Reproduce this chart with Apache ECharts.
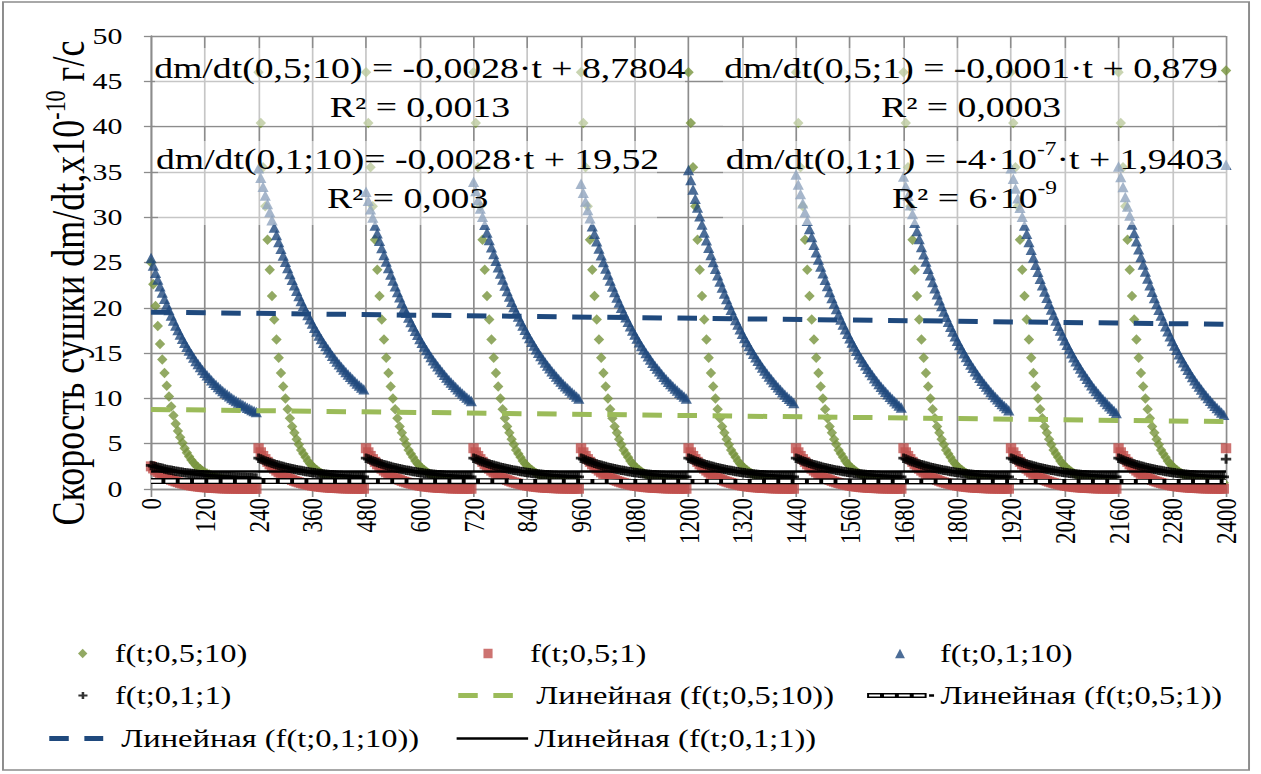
<!DOCTYPE html>
<html><head><meta charset="utf-8">
<script src="https://cdn.jsdelivr.net/npm/echarts/dist/echarts.min.js"></script>
<style>
html,body{margin:0;padding:0;background:#fff;overflow:hidden;width:1261px;height:774px}
#c{width:970px;height:774px;transform:scaleX(1.3);transform-origin:0 0;}
</style>
</head><body><div id="c"></div>
<script>
// ---- data ----
const STEP = 5;          // sampling step of t
const CYCLE = 240;       // length of one cycle
const N_CYCLES = 10;
const X_TICKS = {min: 0, max: 2400, interval: 120};
const Y_TICKS = {min: 0, max: 50, interval: 5};

// f(t;0,5;10)  (green diamonds)
const greenFirst = [25.0,22.6,20.2,18.0,16.0,14.3,12.8,11.4,10.2,9.1,8.1,7.2,6.4,5.7,5.1,4.5,4.0,3.6,3.2,2.9,2.6,2.4,2.2,2.0,1.85,1.7,1.6,1.5,1.4,1.3,1.22,1.15,1.1,1.05,1.0,0.96,0.92,0.89,0.86,0.83,0.8,0.78,0.76,0.74,0.72,0.71,0.7,0.69];
const greenCycle = [46.0,40.4,35.5,31.2,27.5,24.2,21.3,18.7,16.5,14.5,12.8,11.3,10.0,8.8,7.8,6.9,6.2,5.5,4.9,4.3,3.9,3.5,3.1,2.8,2.5,2.3,2.1,1.9,1.75,1.6,1.5,1.38,1.28,1.2,1.12,1.06,1.0,0.95,0.91,0.87,0.84,0.81,0.78,0.76,0.74,0.72,0.71,0.70];
const greenLast = 46.2;

// f(t;0,5;1)  (red squares)
const redFirst = [2.5,2.27,2.06,1.87,1.69,1.53,1.38,1.25,1.13,1.02,0.92,0.83,0.75,0.67,0.6,0.54,0.48,0.43,0.38,0.34,0.3,0.27,0.24,0.21,0.19,0.17,0.15,0.13,0.12,0.1,0.09,0.08,0.07,0.06,0.06,0.05,0.05,0.04,0.04,0.04,0.03,0.03,0.03,0.03,0.02,0.02,0.02,0.02];
const redCycle = [4.5,4.05,3.65,3.3,3.0,2.72,2.47,2.24,2.03,1.84,1.66,1.5,1.36,1.23,1.11,1.0,0.9,0.81,0.73,0.66,0.59,0.53,0.47,0.42,0.37,0.33,0.29,0.26,0.23,0.2,0.18,0.16,0.14,0.12,0.11,0.1,0.09,0.08,0.07,0.06,0.06,0.05,0.05,0.04,0.04,0.04,0.03,0.03];
const redLast = 4.5;

// f(t;0,1;10)  (blue triangles)
const blueFirst = [25.50,24.67,23.87,23.11,22.38,21.68,21.01,20.37,19.75,19.16,18.60,18.06,17.55,17.06,16.58,16.13,15.70,15.28,14.89,14.51,14.14,13.80,13.46,13.14,12.84,12.55,12.27,12.00,11.74,11.50,11.26,11.04,10.82,10.62,10.42,10.23,10.05,9.88,9.71,9.55,9.40,9.26,9.12,8.98,8.86,8.73,8.62,8.51];
const blueCycle = [35.60,34.45,33.34,32.26,31.22,30.22,29.25,28.32,27.41,26.54,25.70,24.88,24.10,23.34,22.60,21.90,21.21,20.55,19.91,19.29,18.70,18.12,17.57,17.03,16.51,16.01,15.53,15.06,14.61,14.17,13.75,13.35,12.95,12.57,12.21,11.85,11.51,11.18,10.86,10.55,10.25,9.97,9.69,9.42,9.16,8.91,8.67,8.43];
const bluePeaks = [35.4, 32.8, 33.9, 33.7, 35.2, 34.7, 34.5, 35.4, 35.6]; // cycles 2..10 start value
const blueEnds  = [11.0, 9.7, 10.0, 10.0, 9.5, 9.0, 8.7, 8.4, 8.2];      // cycles 2..10 end value
const blueLast = 35.8;

// f(t;0,1;1)  (black plus)
const blackFirst = [2.6,2.53,2.46,2.4,2.34,2.28,2.22,2.16,2.11,2.06,2.01,1.96,1.92,1.88,1.84,1.8,1.76,1.73,1.7,1.67,1.64,1.61,1.58,1.56,1.53,1.51,1.49,1.47,1.45,1.43,1.41,1.4,1.38,1.37,1.35,1.34,1.33,1.32,1.3,1.29,1.28,1.27,1.26,1.25,1.24,1.23,1.22,1.21];
const blackCycle = [3.4,3.3,3.2,3.1,3.0,2.92,2.84,2.76,2.68,2.61,2.54,2.47,2.41,2.35,2.29,2.23,2.18,2.13,2.08,2.03,1.98,1.94,1.9,1.86,1.82,1.78,1.75,1.72,1.69,1.66,1.63,1.6,1.58,1.56,1.54,1.52,1.5,1.48,1.46,1.44,1.42,1.41,1.4,1.38,1.37,1.36,1.35,1.34];
const blackLast = 3.3;

// linear trend lines (values at trendT)
const trendT = [0, 2400];
const trendGreen = [8.78, 7.44];
const trendRed = [0.879, 0.831];
const trendBlue = [19.52, 18.18];
const trendBlack = [1.9403, 1.9393];

const NAMES = ['f(t;0,5;10)','f(t;0,5;1)','f(t;0,1;10)','f(t;0,1;1)',
  'Линейная (f(t;0,5;10))','Линейная (f(t;0,5;1))','Линейная (f(t;0,1;10))','Линейная (f(t;0,1;1))'];

// ---- build series tables ----
function build(first, cycle, last, cycleFn) {
  const out = [];
  for (let c = 0; c < N_CYCLES; c++) {
    for (let n = 0; n < cycle.length; n++) {
      const v = c === 0 ? first[n] : (cycleFn ? cycleFn(c, n) : cycle[n]);
      out.push([c * CYCLE + n * STEP, v]);
    }
  }
  out.push([X_TICKS.max, last]);
  return out;
}
const bTop = blueCycle[0], bEnd = blueCycle[blueCycle.length - 1];
const greenData = build(greenFirst, greenCycle, greenLast);
const redData = build(redFirst, redCycle, redLast);
const blueData = build(blueFirst, blueCycle, blueLast, (c, n) =>
  blueEnds[c-1] + (blueCycle[n] - bEnd) * (bluePeaks[c-1] - blueEnds[c-1]) / (bTop - bEnd));
const blackData = build(blackFirst, blackCycle, blackLast);
const tr = arr => trendT.map((t, i) => [t, arr[i]]);

const FONT = 'Liberation Serif';
const GRID = '#8c8c8c';
const PLUS = 'path://M3.6,0H6.4V3.6H10V6.4H6.4V10H3.6V6.4H0V3.6H3.6Z';
// outlined dashes icon for the black/white trend legend entry
let BW = 'path://';
for (let i = 0; i < 4; i++) {
  const a = i * 12;
  BW += `M${a},0H${a+12}V5H${a}Z M${a+1.6},1.5V3.5H${a+10.4}V1.5Z `;
}
BW += 'M50,1.2H54V3.8H50Z';

const chart = echarts.init(document.getElementById('c'), null, {renderer: 'svg'});

const HIDE_SYM = {color: 'rgba(0,0,0,0)', borderColor: 'rgba(0,0,0,0)', borderWidth: 0};
function leg(name, left, top, w, h, pad, extra) {
  return Object.assign({
    data: [name], left: left, top: top, itemWidth: w, itemHeight: h, padding: 0,
    selectedMode: false, orient: 'horizontal',
    textStyle: {color: '#000', fontFamily: FONT, fontSize: 25, fontWeight: 'normal', padding: [0, 0, 0, Math.max(0, pad)]}
  }, extra || {});
}

const ROW = [641, 683, 726];
const legends = [
  leg(NAMES[0], 60, ROW[0], 7.2, 9.5, 16),
  leg(NAMES[1], 371.9, ROW[0], 7, 9.5, 23.8),
  leg(NAMES[2], 688.5, ROW[0], 7.6, 9.5, 22),
  leg(NAMES[3], 60.3, ROW[1], 7, 8.5, 16.2),
  leg(NAMES[4], 350, ROW[1], 42.3, 5, 12.7,
    {itemStyle: HIDE_SYM, lineStyle: {color: '#9BBB59', width: 5, type: [15, 12], opacity: 1}}),
  leg(NAMES[5], 667, ROW[1], 51.5, 6, 0, {icon: BW}),
  leg(NAMES[6], 35.4, ROW[2], 41.5, 5, 8.9,
    {itemStyle: HIDE_SYM, lineStyle: {color: '#1F497D', width: 5, type: [15, 12], opacity: 1}}),
  leg(NAMES[7], 350, ROW[2], 55, 3, 0,
    {itemStyle: HIDE_SYM, lineStyle: {color: '#000', width: 2.5, type: 'solid', opacity: 1}})
];

const eqRich = {
  m: {fontFamily: FONT, fontSize: 29, lineHeight: 39, color: '#000'},
  s: {fontFamily: FONT, fontSize: 18, lineHeight: 24, verticalAlign: 'top', color: '#000'}
};
function eqText(x, y, text) {
  return {type: 'text', x: x, y: y, z: 60,
    style: {text: text, rich: eqRich, fill: '#000', font: '29px "Liberation Serif"',
      align: 'center', verticalAlign: 'middle', textAlign: 'center', textVerticalAlign: 'middle'}};
}
function veil(x1, y1, x2, y2) {
  return {type: 'rect', z: 50, shape: {x: x1 / 1.3, y: y1, width: (x2 - x1) / 1.3, height: y2 - y1},
    style: {fill: 'rgba(255,255,255,0.5)', stroke: null}};
}

const option = {
  animation: false,
  backgroundColor: '#fff',
  grid: {left: 116.2, right: 26.9, top: 36, bottom: 285, outerBoundsMode: 'none', containLabel: false},
  legend: legends,
  xAxis: {
    type: 'value', min: X_TICKS.min, max: X_TICKS.max, interval: X_TICKS.interval,
    axisLine: {show: true, onZero: false, lineStyle: {color: GRID, width: 1.3}},
    axisTick: {show: true, length: 8, lineStyle: {color: GRID, width: 1.3}},
    splitLine: {show: true, lineStyle: {color: GRID, width: 1.3}},
    axisLabel: {rotate: 90, margin: 9, color: '#000', fontFamily: FONT, fontSize: 23,
      formatter: v => String(v), showMinLabel: true, showMaxLabel: true}
  },
  yAxis: {
    type: 'value', min: Y_TICKS.min, max: Y_TICKS.max, interval: Y_TICKS.interval,
    axisLine: {show: true, lineStyle: {color: GRID, width: 1.3}},
    axisTick: {show: true, length: 5.5, lineStyle: {color: GRID, width: 1.3}},
    splitLine: {show: true, lineStyle: {color: GRID, width: 1.3}},
    axisLabel: {margin: 22, color: '#000', fontFamily: FONT, fontSize: 23, formatter: v => String(v)}
  },
  series: [
    {name: NAMES[0], type: 'scatter', data: greenData, symbol: 'diamond', symbolSize: [8, 10.5],
      itemStyle: {color: '#77933C'}, clip: false, z: 2},
    {name: NAMES[1], type: 'scatter', data: redData, symbol: 'rect', symbolSize: [8, 10],
      itemStyle: {color: '#C0504D'}, clip: false, z: 2},
    {name: NAMES[2], type: 'scatter', data: blueData, symbol: 'triangle', symbolSize: [8.6, 10.5],
      itemStyle: {color: '#1F497D'}, clip: false, z: 2},
    {name: NAMES[3], type: 'scatter', data: blackData, symbol: PLUS, symbolSize: [8, 9.5],
      itemStyle: {color: '#000'}, clip: false, z: 2},
    {name: NAMES[4], type: 'line', data: tr(trendGreen), showSymbol: false, symbol: 'none',
      lineStyle: {color: '#9BBB59', width: 5, type: [15, 12]}, itemStyle: {color: '#9BBB59'}, z: 4},
    {name: NAMES[5], type: 'line', data: tr(trendRed), showSymbol: false, symbol: 'none',
      lineStyle: {color: '#000', width: 6, type: 'solid'}, itemStyle: {color: '#000'}, z: 4},
    {name: '__bw', type: 'line', data: tr(trendRed), showSymbol: false, symbol: 'none',
      lineStyle: {color: '#fff', width: 3.2, type: [8, 3]}, itemStyle: {color: '#fff'}, z: 5},
    {name: NAMES[6], type: 'line', data: tr(trendBlue), showSymbol: false, symbol: 'none',
      lineStyle: {color: '#1F497D', width: 5, type: [15, 12]}, itemStyle: {color: '#1F497D'}, z: 4},
    {name: NAMES[7], type: 'line', data: tr(trendBlack), showSymbol: false, symbol: 'none',
      lineStyle: {color: '#000', width: 2.5, type: 'solid'}, itemStyle: {color: '#000'}, z: 4}
  ],
  graphic: [
    {type: 'rect', z: -10, shape: {x: 2.3, y: 2, width: 958.5, height: 768},
      style: {fill: 'none', stroke: '#8c8c8c', lineWidth: 1.5}},
    veil(155, 48, 685, 126),
    veil(158, 141, 657, 225),
    veil(723, 48, 1218, 126),
    veil(723, 141, 1230, 225),
    eqText(323, 87.5, '{m|dm/dt(0,5;10) = -0,0028·t + 8,7804}\n{m|R² = 0,0013}'),
    eqText(313.5, 179, '{m|dm/dt(0,1;10)= -0,0028·t + 19,52}\n{m|R² = 0,003}'),
    eqText(747, 87.5, '{m|dm/dt(0,5;1) = -0,0001·t + 0,879}\n{m|R² = 0,0003}'),
    eqText(749.6, 179, '{m|dm/dt(0,1;1) = -4·10}{s|-7}{m|·t + 1,9403}\n{m|R² = 6·10}{s|-9}'),
    {type: 'text', x: 52.3, y: 283, rotation: Math.PI / 2, z: 60,
      style: {text: '{a|Скорость сушки dm/dt,x10}{s|-10}{a| г/с}', fill: '#000',
        font: '36px "Liberation Serif"',
        rich: {a: {fontFamily: FONT, fontSize: 36, lineHeight: 42, color: '#000'},
               s: {fontFamily: FONT, fontSize: 22, lineHeight: 26, verticalAlign: 'top', color: '#000'}},
        align: 'center', verticalAlign: 'middle', textAlign: 'center', textVerticalAlign: 'middle'}}
  ]
};
chart.setOption(option);
</script>
</body></html>
